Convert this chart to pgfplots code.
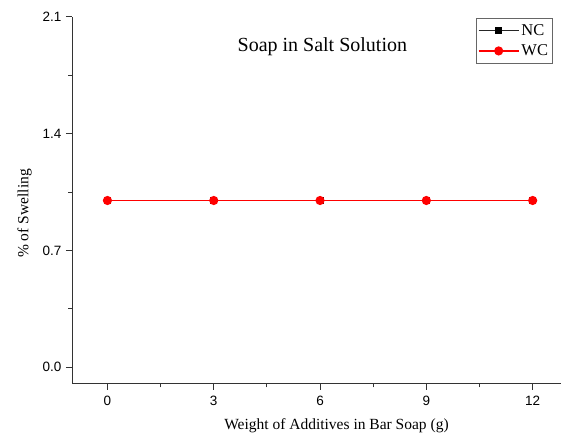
\documentclass[border=0pt]{standalone}
\usepackage{fontspec}
\setmainfont{Liberation Serif}
\newfontfamily\ticksfont{Liberation Sans}
\usepackage{pgfplots}
\pgfplotsset{compat=1.18}
\begin{document}
\begin{tikzpicture}[x=1pt,y=1pt]
\path[use as bounding box] (-72,-59) rectangle (489,384);
\begin{axis}[
  at={(0,0)}, anchor=south west,
  width=489pt, height=367pt, scale only axis,
  axis lines=left, axis line style={-, draw=black!80, line width=1pt},
  xmin=-1, xmax=12.8, ymin=-0.1, ymax=2.1,
  xtick={0,3,6,9,12}, ytick={0,0.7,1.4,2.1},
  minor xtick={1.5,4.5,7.5,10.5}, minor ytick={0.35,1.05,1.75},
  tick align=outside, major tick length=6pt, minor tick length=3.5pt,
  tick style={black!80, line width=1pt},
  /pgf/number format/assume math mode=true,
  yticklabel style={/pgf/number format/fixed, /pgf/number format/fixed zerofill, /pgf/number format/precision=1, font=\ticksfont\fontsize{13.5}{15}\selectfont, xshift=-1pt},
  xticklabel style={font=\ticksfont\fontsize{13.5}{15}\selectfont, yshift=-3pt},
  xlabel={Weight of Additives in Bar Soap (g)},
  ylabel={\% of Swelling},
  label style={font=\fontsize{15.5}{18}\selectfont},
  xlabel style={yshift=-6pt, xshift=20pt},
  ylabel style={yshift=4pt, xshift=-13pt},
  legend style={at={(0.982,0.997)}, anchor=north east, draw=black!60, font=\fontsize{16.5}{18}\selectfont, inner xsep=2pt, inner ysep=4pt, row sep=4pt},
  legend cell align=left,
  legend image code/.code={\draw[#1] (0pt,0pt) -- (40pt,0pt); \draw[#1, only marks] plot coordinates {(20pt,0pt)};},
  clip=false,
]
\addplot[black!85, mark=square*, mark size=3pt, line width=0.6pt, mark options={black}] coordinates {(0,1.0) (3,1.0) (6,1.0) (9,1.0) (12,1.0)};
\addlegendentry{NC}
\addplot[red, mark=*, mark size=3.8pt, line width=1.5pt] coordinates {(0,1.0) (3,1.0) (6,1.0) (9,1.0) (12,1.0)};
\addlegendentry{WC}
\node[font=\fontsize{20}{22}\selectfont] at (axis description cs:0.512,0.92) {Soap in Salt Solution};
\end{axis}
\end{tikzpicture}
\end{document}
